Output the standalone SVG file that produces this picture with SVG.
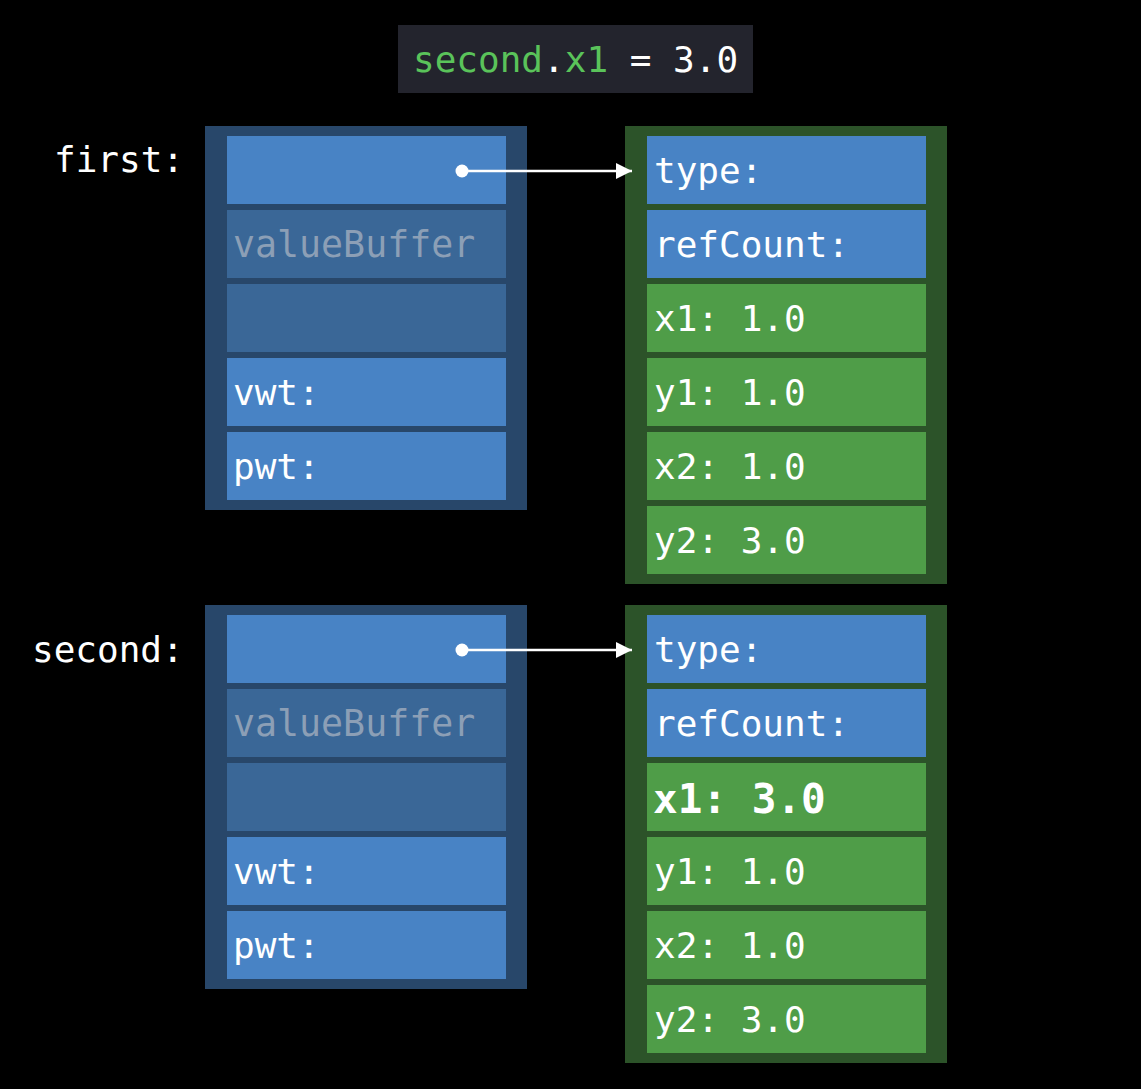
<svg xmlns="http://www.w3.org/2000/svg" width="1141" height="1089" viewBox="0 0 1141 1089">
<defs>
<style>
.t{font-family:"DejaVu Sans Mono","Liberation Mono",monospace;font-size:36px;fill:#ffffff}
.dim{fill:#8c9fb6;font-size:36.6px}
.b{font-weight:bold;font-size:41px}
.g{fill:#5ac35a}
.ob{fill:#28476a}
.og{fill:#2c5329}
.cb{fill:#4883c5}
.cd{fill:#3a6797}
.cg{fill:#4f9d48}
</style>
<marker id="ah" viewBox="0 0 10 10" refX="10" refY="5" markerWidth="16" markerHeight="17" markerUnits="userSpaceOnUse" orient="auto">
<path d="M0,0 L10,5 L0,10 Z" fill="#ffffff"/>
</marker>
</defs>
<rect width="1141" height="1089" fill="#000000"/>
<g id="code">
<rect x="398" y="25" width="355" height="68" fill="#23242d"/>
<text class="t" x="413" y="72"><tspan class="g">second</tspan>.<tspan class="g">x1</tspan> = 3.0</text>
</g>
<g id="label-first"><text class="t" x="54" y="172">first:</text></g>
<g id="label-second"><text class="t" x="32" y="662">second:</text></g>
<g id="first-box">
<rect class="ob" x="205" y="126" width="322" height="384"/>
<rect class="cb" x="227" y="136" width="279" height="68"/>
<rect class="cd" x="227" y="210" width="279" height="68"/>
<text class="t dim" x="233" y="257">valueBuffer</text>
<rect class="cd" x="227" y="284" width="279" height="68"/>
<rect class="cb" x="227" y="358" width="279" height="68"/>
<text class="t" x="233" y="405">vwt:</text>
<rect class="cb" x="227" y="432" width="279" height="68"/>
<text class="t" x="233" y="479">pwt:</text>
</g>
<g id="first-heap">
<rect class="og" x="625" y="126" width="322" height="458"/>
<rect class="cb" x="647" y="136" width="279" height="68"/>
<text class="t" x="654" y="183">type:</text>
<rect class="cb" x="647" y="210" width="279" height="68"/>
<text class="t" x="654" y="257">refCount:</text>
<rect class="cg" x="647" y="284" width="279" height="68"/>
<text class="t" x="654" y="331">x1: 1.0</text>
<rect class="cg" x="647" y="358" width="279" height="68"/>
<text class="t" x="654" y="405">y1: 1.0</text>
<rect class="cg" x="647" y="432" width="279" height="68"/>
<text class="t" x="654" y="479">x2: 1.0</text>
<rect class="cg" x="647" y="506" width="279" height="68"/>
<text class="t" x="654" y="553">y2: 3.0</text>
</g>
<g id="second-box">
<rect class="ob" x="205" y="605" width="322" height="384"/>
<rect class="cb" x="227" y="615" width="279" height="68"/>
<rect class="cd" x="227" y="689" width="279" height="68"/>
<text class="t dim" x="233" y="736">valueBuffer</text>
<rect class="cd" x="227" y="763" width="279" height="68"/>
<rect class="cb" x="227" y="837" width="279" height="68"/>
<text class="t" x="233" y="884">vwt:</text>
<rect class="cb" x="227" y="911" width="279" height="68"/>
<text class="t" x="233" y="958">pwt:</text>
</g>
<g id="second-heap">
<rect class="og" x="625" y="605" width="322" height="458"/>
<rect class="cb" x="647" y="615" width="279" height="68"/>
<text class="t" x="654" y="662">type:</text>
<rect class="cb" x="647" y="689" width="279" height="68"/>
<text class="t" x="654" y="736">refCount:</text>
<rect class="cg" x="647" y="763" width="279" height="68"/>
<text class="t b" x="653" y="813">x1: 3.0</text>
<rect class="cg" x="647" y="837" width="279" height="68"/>
<text class="t" x="654" y="884">y1: 1.0</text>
<rect class="cg" x="647" y="911" width="279" height="68"/>
<text class="t" x="654" y="958">x2: 1.0</text>
<rect class="cg" x="647" y="985" width="279" height="68"/>
<text class="t" x="654" y="1032">y2: 3.0</text>
</g>
<g id="connectors" stroke="#ffffff" stroke-width="2.5" fill="none">
<circle cx="462" cy="171" r="6.5" fill="#ffffff" stroke="none"/>
<line x1="462" y1="171" x2="632" y2="171" marker-end="url(#ah)"/>
<circle cx="462" cy="650" r="6.5" fill="#ffffff" stroke="none"/>
<line x1="462" y1="650" x2="632" y2="650" marker-end="url(#ah)"/>
</g>
</svg>
